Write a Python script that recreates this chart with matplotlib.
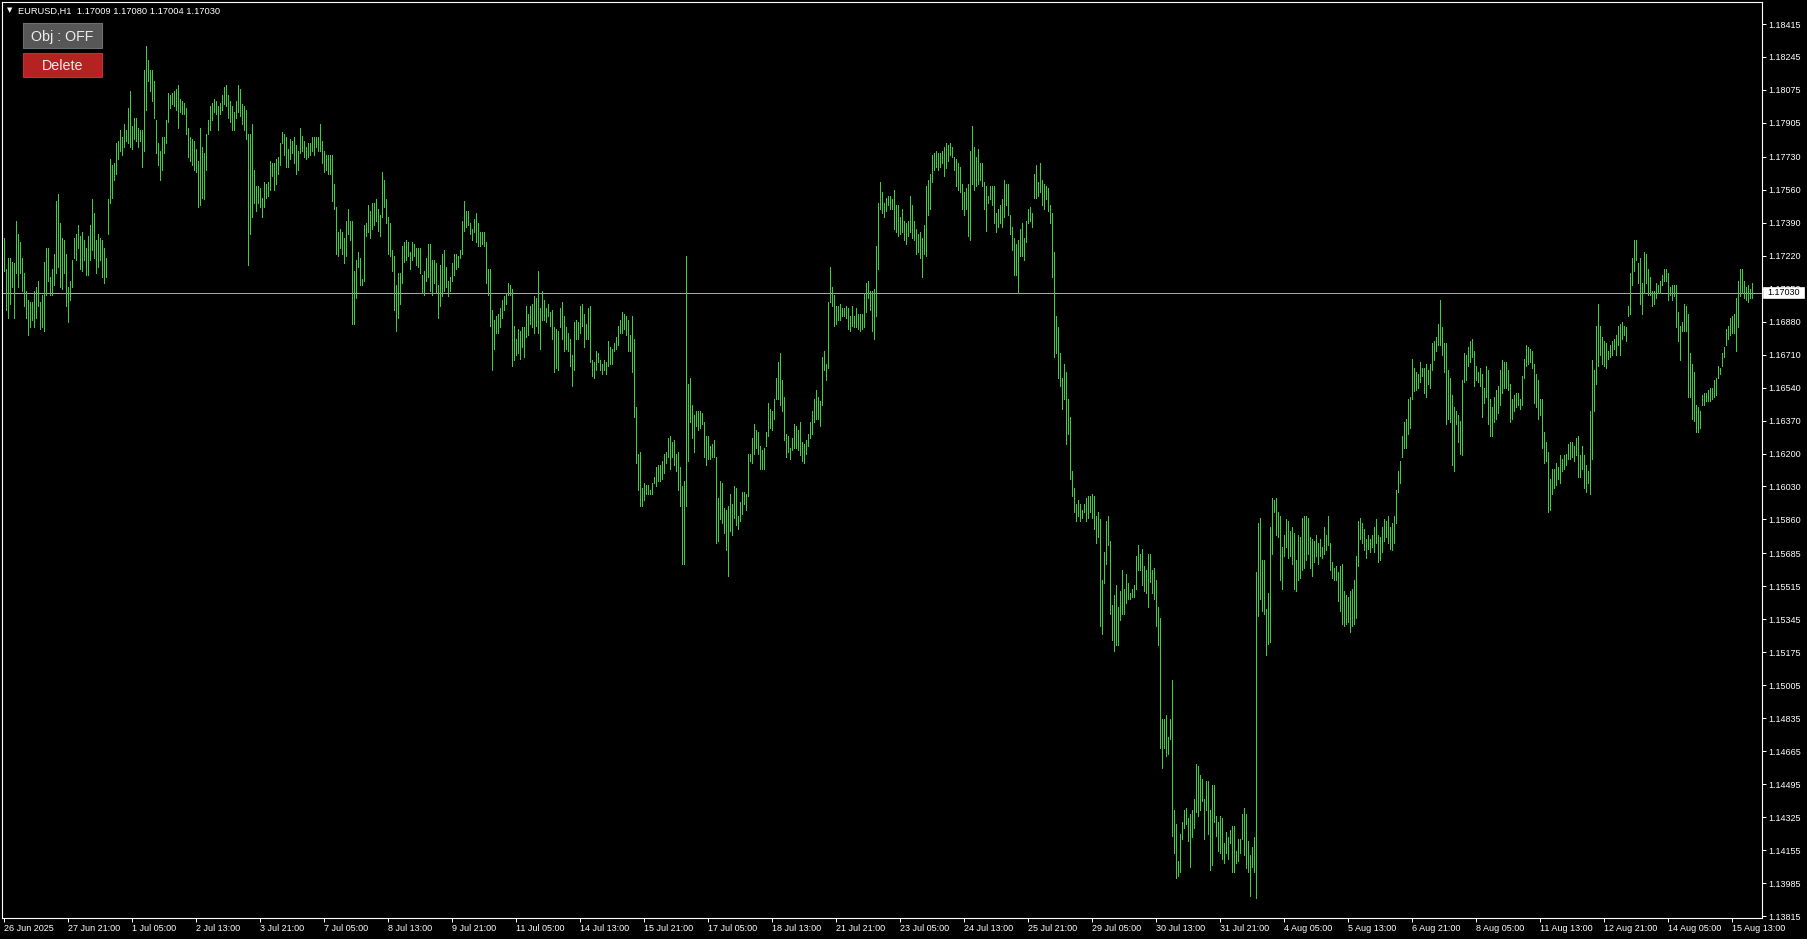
import numpy as np
import matplotlib
matplotlib.use("Agg")
import matplotlib.pyplot as plt
from matplotlib.patches import Rectangle

plt.rcParams['font.family'] = ['Liberation Sans', 'DejaVu Sans']

# EURUSD H1 bars, high / low in pips above 1.1300, one value per hour
HI = [
    431, 415, 421, 421, 419, 418, 440, 433, 429, 421, 413, 404, 399, 398, 398, 404, 406, 409, 398, 402,
    419, 426, 426, 411, 415, 423, 450, 454, 439, 431, 430, 423, 406, 409, 420, 431, 433, 438, 432, 434,
    430, 426, 432, 438, 451, 444, 430, 433, 431, 430, 426, 421, 451, 472, 469, 470, 480, 481, 487, 483,
    490, 487, 498, 507, 489, 493, 493, 488, 487, 487, 518, 530, 523, 518, 518, 512, 492, 480, 476, 483,
    483, 492, 506, 505, 506, 507, 508, 510, 503, 502, 501, 498, 488, 483, 482, 481, 477, 471, 488, 478,
    475, 485, 492, 499, 501, 503, 502, 499, 501, 505, 509, 510, 505, 502, 499, 496, 502, 510, 508, 500,
    499, 497, 485, 485, 490, 466, 458, 458, 457, 452, 460, 459, 460, 471, 470, 470, 472, 473, 480, 486,
    485, 483, 477, 482, 481, 483, 479, 476, 488, 484, 481, 478, 480, 480, 483, 483, 483, 483, 490, 481,
    476, 474, 474, 474, 474, 459, 447, 434, 436, 434, 431, 440, 446, 440, 440, 414, 420, 424, 421, 410,
    438, 439, 448, 445, 449, 449, 451, 446, 443, 465, 461, 451, 442, 439, 425, 422, 407, 413, 413, 427,
    429, 430, 429, 424, 429, 428, 426, 426, 426, 412, 414, 421, 428, 428, 420, 420, 418, 407, 417, 423,
    425, 416, 409, 411, 418, 423, 423, 422, 425, 440, 450, 445, 445, 439, 436, 441, 444, 439, 434, 434,
    434, 429, 415, 415, 394, 389, 391, 392, 395, 399, 401, 403, 408, 407, 405, 386, 379, 384, 383, 385,
    385, 396, 392, 396, 397, 401, 400, 414, 395, 404, 399, 395, 397, 393, 394, 385, 384, 383, 395, 398,
    391, 385, 382, 379, 371, 388, 389, 388, 396, 397, 392, 387, 395, 396, 368, 367, 373, 372, 368, 366,
    368, 367, 378, 375, 374, 377, 380, 386, 389, 393, 392, 391, 389, 381, 391, 379, 344, 320, 321, 302,
    305, 304, 304, 301, 305, 308, 313, 314, 314, 316, 320, 321, 328, 329, 326, 327, 320, 321, 313, 303,
    306, 422, 356, 359, 345, 340, 342, 342, 342, 341, 336, 329, 329, 324, 325, 327, 318, 297, 306, 305,
    292, 291, 293, 299, 294, 303, 302, 288, 295, 300, 300, 299, 320, 320, 328, 335, 332, 331, 324, 322,
    323, 331, 346, 343, 342, 348, 359, 367, 372, 358, 349, 330, 329, 323, 328, 335, 334, 332, 336, 326,
    325, 327, 330, 336, 342, 348, 353, 349, 347, 370, 373, 366, 398, 416, 406, 402, 396, 396, 397, 395,
    395, 396, 395, 391, 396, 391, 395, 392, 392, 392, 403, 408, 409, 404, 404, 405, 427, 449, 460, 455,
    449, 452, 453, 453, 451, 456, 448, 448, 442, 446, 440, 439, 440, 453, 448, 440, 436, 433, 434, 431,
    438, 458, 461, 464, 474, 475, 476, 475, 475, 476, 478, 480, 479, 480, 478, 473, 472, 470, 468, 459,
    455, 457, 459, 476, 489, 478, 473, 477, 470, 470, 460, 458, 453, 458, 458, 458, 444, 446, 448, 451,
    461, 459, 459, 443, 437, 431, 428, 430, 436, 439, 431, 440, 446, 447, 444, 464, 469, 460, 470, 461,
    459, 458, 457, 448, 444, 424, 391, 385, 372, 359, 366, 362, 348, 339, 311, 302, 294, 296, 294, 291,
    294, 297, 298, 298, 299, 298, 288, 290, 286, 255, 269, 285, 288, 275, 242, 247, 252, 241, 249, 260,
    250, 258, 253, 248, 250, 252, 267, 273, 268, 271, 262, 260, 268, 268, 260, 261, 255, 241, 235, 183,
    183, 185, 174, 183, 203, 136, 129, 110, 124, 130, 136, 137, 132, 134, 136, 142, 160, 159, 154, 152,
    142, 151, 151, 136, 149, 149, 133, 130, 133, 132, 119, 125, 122, 126, 128, 128, 115, 121, 121, 134,
    137, 134, 120, 113, 117, 122, 259, 284, 287, 265, 265, 240, 248, 282, 297, 296, 297, 290, 288, 272,
    278, 286, 285, 280, 282, 279, 265, 278, 277, 287, 288, 288, 287, 277, 276, 275, 278, 274, 276, 272,
    282, 278, 288, 274, 264, 261, 262, 259, 262, 263, 249, 247, 246, 249, 250, 255, 267, 285, 287, 284,
    281, 276, 278, 276, 278, 282, 286, 278, 277, 282, 286, 285, 288, 282, 284, 288, 301, 311, 316, 329,
    336, 338, 348, 349, 369, 364, 362, 361, 367, 364, 364, 366, 363, 366, 377, 378, 380, 387, 399, 385,
    377, 377, 363, 359, 350, 344, 342, 340, 337, 358, 372, 371, 375, 378, 379, 373, 365, 362, 364, 361,
    354, 365, 363, 348, 344, 349, 353, 355, 363, 368, 367, 367, 363, 356, 348, 350, 351, 351, 348, 360,
    369, 376, 375, 374, 373, 366, 361, 358, 348, 348, 331, 326, 321, 307, 312, 312, 315, 313, 319, 317,
    319, 320, 325, 326, 326, 324, 328, 329, 319, 324, 319, 314, 311, 342, 368, 363, 386, 397, 386, 380,
    378, 377, 373, 376, 378, 379, 381, 386, 387, 388, 386, 385, 396, 413, 421, 430, 430, 418, 421, 408,
    424, 423, 415, 411, 404, 404, 408, 407, 409, 412, 415, 415, 413, 406, 407, 407, 407, 393, 386, 388,
    397, 396, 392, 372, 366, 362, 345, 344, 342, 350, 351, 351, 353, 354, 354, 358, 359, 365, 364, 372,
    375, 384, 386, 390, 391, 392, 400, 409, 415, 415, 409, 406, 407, 405, 408,
]
LO = [
    414, 394, 390, 397, 406, 390, 413, 406, 413, 404, 396, 390, 381, 385, 389, 385, 390, 396, 384, 385,
    383, 402, 409, 402, 402, 407, 413, 416, 406, 405, 413, 396, 388, 399, 406, 421, 420, 426, 415, 414,
    420, 412, 412, 420, 425, 421, 413, 416, 420, 411, 408, 411, 433, 449, 452, 461, 464, 472, 476, 474,
    478, 481, 480, 478, 477, 482, 481, 478, 481, 468, 476, 497, 512, 507, 502, 493, 475, 469, 461, 466,
    475, 480, 491, 498, 500, 499, 497, 488, 496, 495, 495, 485, 473, 471, 469, 466, 465, 447, 448, 452,
    451, 466, 485, 487, 492, 496, 495, 487, 495, 497, 500, 499, 493, 491, 487, 487, 493, 496, 494, 490,
    487, 482, 417, 433, 442, 449, 445, 449, 447, 442, 447, 452, 453, 456, 463, 456, 459, 464, 469, 480,
    474, 468, 468, 472, 475, 470, 464, 466, 475, 476, 473, 472, 473, 474, 476, 474, 478, 476, 476, 470,
    465, 466, 464, 464, 450, 446, 423, 422, 426, 423, 418, 422, 433, 430, 387, 387, 400, 416, 407, 407,
    409, 432, 434, 431, 436, 438, 440, 435, 432, 442, 447, 439, 423, 422, 414, 394, 383, 390, 397, 408,
    419, 420, 422, 415, 420, 422, 417, 416, 413, 403, 402, 409, 411, 404, 402, 408, 403, 390, 396, 401,
    404, 406, 401, 404, 409, 412, 415, 416, 421, 423, 435, 437, 438, 433, 430, 434, 429, 427, 427, 428,
    427, 408, 402, 386, 363, 374, 382, 382, 385, 390, 394, 397, 402, 402, 365, 368, 371, 372, 369, 375,
    370, 380, 381, 387, 385, 382, 386, 382, 374, 389, 389, 388, 391, 386, 379, 362, 364, 363, 385, 379,
    373, 374, 373, 365, 355, 363, 379, 379, 382, 386, 375, 379, 379, 367, 360, 359, 363, 367, 363, 361,
    363, 361, 365, 366, 366, 373, 374, 376, 382, 382, 384, 381, 373, 373, 362, 339, 315, 301, 293, 293,
    296, 299, 299, 299, 299, 305, 303, 306, 306, 307, 310, 315, 318, 312, 318, 314, 311, 301, 293, 263,
    263, 293, 316, 336, 328, 321, 334, 332, 333, 335, 318, 314, 317, 317, 318, 318, 274, 275, 286, 284,
    279, 270, 257, 280, 278, 287, 283, 281, 285, 289, 294, 291, 298, 316, 315, 320, 323, 320, 312, 312,
    312, 324, 329, 333, 332, 338, 348, 348, 345, 342, 327, 318, 321, 317, 322, 323, 323, 322, 319, 316,
    315, 320, 324, 328, 330, 336, 338, 338, 334, 345, 363, 358, 364, 398, 396, 386, 387, 389, 389, 391,
    391, 390, 384, 383, 386, 385, 385, 384, 383, 384, 385, 393, 400, 394, 383, 379, 391, 415, 446, 444,
    442, 445, 448, 446, 446, 436, 434, 432, 433, 434, 430, 428, 432, 434, 431, 430, 423, 424, 421, 411,
    423, 422, 443, 446, 460, 466, 468, 466, 468, 470, 463, 467, 471, 474, 473, 466, 458, 456, 455, 446,
    443, 446, 432, 430, 459, 456, 458, 459, 461, 458, 446, 435, 449, 451, 448, 439, 434, 437, 439, 437,
    442, 448, 443, 433, 425, 412, 412, 403, 422, 422, 420, 429, 439, 440, 437, 452, 452, 453, 455, 448,
    446, 451, 445, 439, 411, 370, 372, 359, 355, 343, 348, 325, 330, 307, 298, 290, 285, 288, 285, 287,
    290, 285, 287, 290, 287, 281, 274, 277, 231, 227, 253, 263, 273, 237, 224, 218, 221, 221, 234, 237,
    237, 243, 245, 245, 246, 246, 250, 260, 260, 252, 249, 248, 241, 254, 248, 245, 231, 221, 168, 158,
    168, 164, 165, 173, 123, 114, 101, 102, 104, 121, 127, 129, 120, 107, 122, 127, 135, 133, 136, 141,
    121, 136, 124, 105, 108, 130, 123, 115, 114, 111, 109, 114, 111, 119, 104, 104, 109, 110, 114, 121,
    113, 106, 104, 92, 107, 104, 91, 236, 245, 239, 237, 216, 222, 223, 268, 290, 278, 277, 255, 250,
    267, 272, 266, 267, 263, 250, 249, 255, 256, 260, 261, 265, 268, 261, 257, 264, 267, 263, 267, 266,
    268, 270, 273, 260, 256, 255, 255, 244, 239, 232, 231, 232, 233, 228, 231, 232, 235, 262, 276, 274,
    270, 266, 271, 269, 272, 269, 274, 264, 265, 269, 275, 277, 274, 271, 270, 274, 284, 300, 305, 318,
    323, 323, 330, 333, 348, 352, 353, 354, 357, 360, 351, 349, 356, 354, 363, 368, 373, 376, 376, 371,
    362, 335, 338, 336, 314, 311, 335, 326, 320, 319, 357, 358, 365, 367, 370, 355, 358, 357, 355, 339,
    346, 349, 335, 329, 329, 336, 338, 341, 345, 351, 354, 354, 353, 336, 338, 342, 344, 345, 343, 345,
    359, 365, 366, 367, 364, 346, 344, 338, 340, 323, 315, 316, 290, 291, 299, 302, 304, 307, 305, 311,
    312, 314, 317, 317, 318, 316, 319, 308, 308, 312, 302, 300, 305, 299, 317, 342, 356, 365, 371, 366,
    365, 364, 369, 370, 371, 374, 371, 376, 371, 379, 381, 378, 391, 392, 407, 414, 420, 408, 397, 392,
    403, 408, 402, 402, 396, 397, 400, 403, 403, 407, 409, 409, 399, 402, 399, 401, 385, 378, 368, 383,
    383, 383, 349, 349, 338, 337, 331, 331, 333, 345, 345, 347, 347, 347, 348, 349, 350, 359, 361, 365,
    370, 376, 379, 381, 382, 382, 373, 385, 401, 403, 400, 399, 398, 400, 400,
]

X_LABELS = ['26 Jun 2025', '27 Jun 21:00', '1 Jul 05:00', '2 Jul 13:00', '3 Jul 21:00', '7 Jul 05:00',
            '8 Jul 13:00', '9 Jul 21:00', '11 Jul 05:00', '14 Jul 13:00', '15 Jul 21:00', '17 Jul 05:00',
            '18 Jul 13:00', '21 Jul 21:00', '23 Jul 05:00', '24 Jul 13:00', '25 Jul 21:00', '29 Jul 05:00',
            '30 Jul 13:00', '31 Jul 21:00', '4 Aug 05:00', '5 Aug 13:00', '6 Aug 21:00', '8 Aug 05:00',
            '11 Aug 13:00', '12 Aug 21:00', '14 Aug 05:00', '15 Aug 13:00']
BARS_PER_LABEL = 32

Y_LABELS = ['1.13815', '1.13985', '1.14155', '1.14325', '1.14495', '1.14665', '1.14835', '1.15005',
            '1.15175', '1.15345', '1.15515', '1.15685', '1.15860', '1.16030', '1.16200', '1.16370',
            '1.16540', '1.16710', '1.16880', '1.17050', '1.17220', '1.17390', '1.17560', '1.17730',
            '1.17905', '1.18075', '1.18245', '1.18415']

SYMBOL = 'EURUSD,H1'
LAST_BAR = ['1.17009', '1.17080', '1.17004', '1.17030']   # O H L C
BID = 1.17030

W, H = 1807, 939
GREEN = '#46c846'

hi = 1.13 + np.array(HI) / 10000.0
lo = 1.13 + np.array(LO) / 10000.0
xs = np.arange(len(hi))

fig = plt.figure(figsize=(W / 100, H / 100), dpi=100, facecolor='black')
ax = fig.add_axes([2 / W, (H - 918) / H, 1760 / W, 916 / H])
ax.set_facecolor('black')

ax.vlines(xs, lo, hi, colors=GREEN, linewidth=0.72, antialiased=False, zorder=2)
ax.axhline(BID, color='#a6a6a6', linewidth=0.72, antialiased=False, zorder=1)

ax.set_xlim(-0.75, 879.25)
ax.set_ylim(1.138047, 1.185285)

for s in ax.spines.values():
    s.set_color('white')
    s.set_linewidth(0.8)

ax.yaxis.tick_right()
ax.set_yticks([float(v) for v in Y_LABELS])
ax.set_yticklabels(Y_LABELS)
ax.set_xticks(np.arange(len(X_LABELS)) * BARS_PER_LABEL)
ax.set_xticklabels(X_LABELS)
for lbl in ax.get_xticklabels():
    lbl.set_ha('left')
ax.tick_params(axis='both', direction='out', length=3, width=0.72, colors='white', labelsize=6.5)
ax.tick_params(axis='y', pad=1.5)
ax.tick_params(axis='x', pad=1)

# header line
fig.text(9.5 / W, 1 - 10.5 / H, '\u25bc', color='white', fontsize=5, family='DejaVu Sans',
         ha='center', va='center')
fig.text(18 / W, 1 - 11 / H, SYMBOL + '  ' + ' '.join(LAST_BAR), color='white', fontsize=6.7,
         ha='left', va='center')

# buttons
def button(y0, y1, face, edge, label):
    fig.add_artist(Rectangle((23 / W, 1 - y1 / H), 79 / W, (y1 - y0) / H, transform=fig.transFigure,
                             facecolor=face, edgecolor=edge, linewidth=0.8, zorder=5))
    fig.text(62.5 / W, 1 - ((y0 + y1) / 2 + 1.5) / H, label, color='#ececec', fontsize=10.3,
             ha='center', va='center', zorder=6)

button(23, 48, '#575757', '#6e6e6e', 'Obj : OFF')
button(53, 77, '#b42222', '#c03030', 'Delete')

# bid price tag on the right scale
fig.add_artist(Rectangle((1763 / W, 1 - 298 / H), 41 / W, 11 / H, transform=fig.transFigure,
                         facecolor='white', edgecolor='white', linewidth=0.5, zorder=5))
fig.text(1783.5 / W, 1 - 292.6 / H, LAST_BAR[3], color='black', fontsize=6.5,
         ha='center', va='center', zorder=6)

fig.savefig('out.png', dpi=100, facecolor='black')
